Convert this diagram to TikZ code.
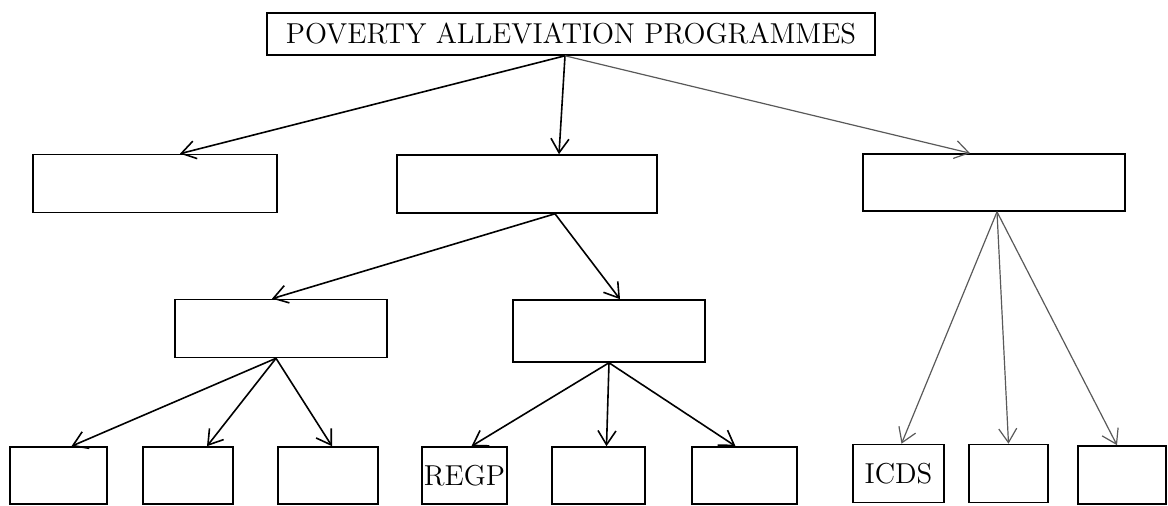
\documentclass[tikz,border=0pt]{standalone}
\usetikzlibrary{arrows.meta}

\begin{document}
\begin{tikzpicture}[x=0.5pt,y=-0.5pt,
		box/.style={draw,thick,inner sep=0pt,minimum height=29pt,font=\Large},
		link/.style={-{Straight Barb[length=7pt,width=9pt]},thick},
		faint/.style={-{Straight Barb[length=7pt,width=9pt]},semithick,black!65}]
	\useasboundingbox (0,0) rectangle (1168,506);

	\node[box,minimum width=304pt,minimum height=21pt] (pap) at (571,34) {POVERTY ALLEVIATION PROGRAMMES};

	\node[box,minimum width=122pt] (lvA) at (155,183.5) {};
	\node[box,minimum width=130pt] (lvB) at (527,184) {};
	\node[box,minimum width=131pt,minimum height=28.5pt] (lvC) at (994,182.5) {};

	\node[box,minimum width=106pt] (lvD) at (281,328.5) {};
	\node[box,minimum width=96pt,minimum height=31pt] (lvE) at (609,331) {};

	\node[box,minimum width=48.5pt,minimum height=28.5pt] (bt1) at (58.5,475.5) {};
	\node[box,minimum width=45pt,minimum height=28.5pt] (bt2) at (188,475.5) {};
	\node[box,minimum width=50pt,minimum height=28.5pt] (bt3) at (328,475.5) {};
	\node[box,minimum width=42.5pt,minimum height=28.5pt] (regp) at (464.5,475.5) {REGP};
	\node[box,minimum width=46.5pt,minimum height=28.5pt] (bt5) at (598.5,475.5) {};
	\node[box,minimum width=52.5pt,minimum height=28.5pt] (bt6) at (744.5,475.5) {};
	\node[box,minimum width=45.5pt,minimum height=29pt] (icds) at (898.5,473.5) {ICDS};
	\node[box,minimum width=39.5pt,minimum height=29pt] (bt8) at (1008.5,473.5) {};
	\node[box,minimum width=44pt,minimum height=29pt] (bt9) at (1122,475) {};

	% first level
	\draw[link] ([xshift=-3pt]pap.south) -- ([xshift=12.5pt]lvA.north);
	\draw[link] ([xshift=-3pt]pap.south) -- ([xshift=16pt]lvB.north);
	\draw[faint] ([xshift=-3pt]pap.south) -- ([xshift=-12pt]lvC.north);

	% second level
	\draw[link] ([xshift=14pt]lvB.south) -- ([xshift=-4.5pt]lvD.north);
	\draw[link] ([xshift=14pt]lvB.south) -- ([xshift=5.5pt]lvE.north);

	\draw[link] ([xshift=-2.5pt]lvD.south) -- ([xshift=6.5pt]bt1.north);
	\draw[link] ([xshift=-2.5pt]lvD.south) -- ([xshift=9.5pt]bt2.north);
	\draw[link] ([xshift=-2.5pt]lvD.south) -- ([xshift=2pt]bt3.north);

	\draw[link] (lvE.south) -- ([xshift=3.5pt]regp.north);
	\draw[link] (lvE.south) -- ([xshift=4pt]bt5.north);
	\draw[link] (lvE.south) -- ([xshift=-4.5pt]bt6.north);

	\draw[faint] ([xshift=1.5pt]lvC.south) -- ([xshift=1.5pt]icds.north);
	\draw[faint] ([xshift=1.5pt]lvC.south) -- (bt8.north);
	\draw[faint] ([xshift=1.5pt]lvC.south) -- ([xshift=-2.5pt]bt9.north);
\end{tikzpicture}
\end{document}
